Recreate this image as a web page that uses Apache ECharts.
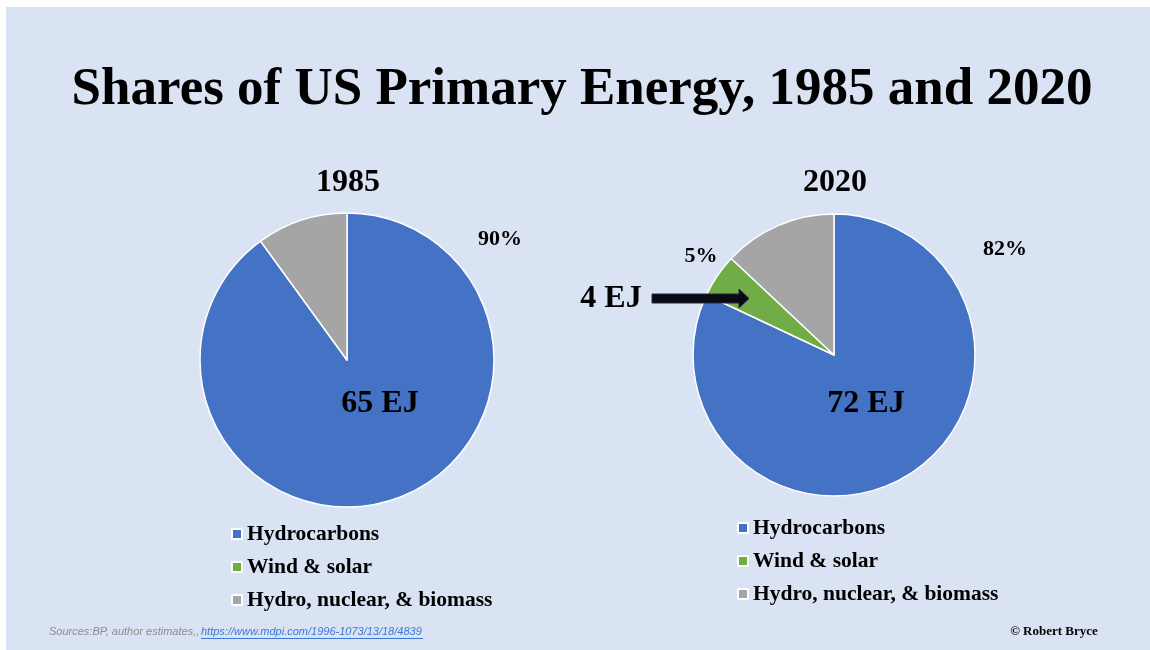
<!DOCTYPE html>
<html>
<head>
<meta charset="utf-8">
<script src="https://cdn.jsdelivr.net/npm/echarts@6/dist/echarts.min.js"></script>
<style>
  html, body { margin: 0; padding: 0; background: #fff; }
  #chart { width: 1150px; height: 650px; }
</style>
</head>
<body>
<div id="chart"></div>
<script>
// shares of US primary energy
var categories = ["Hydrocarbons", "Wind & solar", "Hydro, nuclear, & biomass"];
var years = ["1985", "2020"];
var shares1985 = [90, 0, 10];
var shares2020 = [82, 5, 13];
var totalEJ = [65, 72];
var windSolarEJ2020 = 4;
var sourceText = "Sources:BP, author estimates,, ";
var sourceLink = "https://www.mdpi.com/1996-1073/13/18/4839";
var creditText = "\u00a9 Robert Bryce";

var colors = ["#4472c4", "#70ad47", "#a5a5a5"];
var serif = "'Liberation Serif', 'Times New Roman', serif";

function pieData(shares) {
  return categories.map(function (name, i) {
    return { name: name, value: shares[i] };
  });
}

function label(text, x, y, size) {
  return {
    type: "text",
    x: x,
    y: y,
    z: 100,
    style: {
      text: text,
      font: "bold " + size + "px " + serif,
      fill: "#000",
      align: "center",
      verticalAlign: "middle"
    }
  };
}

function legendAt(left, top) {
  return {
    orient: "vertical",
    left: left,
    top: top,
    padding: 0,
    itemGap: 11,
    itemWidth: 10,
    itemHeight: 10,
    icon: "rect",
    selectedMode: false,
    data: categories,
    textStyle: {
      fontFamily: serif,
      fontWeight: "bold",
      fontSize: 21.5,
      color: "#000"
    }
  };
}

var myChart = echarts.init(document.getElementById("chart"));

var option = {
  backgroundColor: "#fff",
  animation: false,
  color: colors,
  title: [
    {
      text: "Shares of US Primary Energy, 1985 and 2020",
      left: 577,
      top: 59,
      textAlign: "center",
      textStyle: { fontFamily: serif, fontWeight: "bold", fontSize: 53, color: "#000" }
    },
    {
      text: years[0],
      left: 343,
      top: 162,
      textAlign: "center",
      textStyle: { fontFamily: serif, fontWeight: "bold", fontSize: 32, color: "#000" }
    },
    {
      text: years[1],
      left: 830,
      top: 162,
      textAlign: "center",
      textStyle: { fontFamily: serif, fontWeight: "bold", fontSize: 32, color: "#000" }
    }
  ],
  legend: [legendAt(231, 523), legendAt(737, 517)],
  series: [
    {
      name: years[0],
      type: "pie",
      center: [347, 360],
      radius: 147,
      startAngle: 90,
      label: { show: false },
      labelLine: { show: false },
      emphasis: { disabled: true },
      itemStyle: { borderColor: "#fff", borderWidth: 1.5 },
      data: pieData(shares1985)
    },
    {
      name: years[1],
      type: "pie",
      center: [834, 355],
      radius: 141,
      startAngle: 90,
      label: { show: false },
      labelLine: { show: false },
      emphasis: { disabled: true },
      itemStyle: { borderColor: "#fff", borderWidth: 1.5 },
      data: pieData(shares2020)
    }
  ],
  graphic: [
    // slide background with thin white frame top/left
    {
      type: "rect",
      z: -10,
      shape: { x: 6, y: 7, width: 1144, height: 643 },
      style: { fill: "#dae3f3" }
    },
    label(shares1985[0] + "%", 500, 239, 22),
    label(totalEJ[0] + " EJ", 380, 404, 32),
    label(shares2020[0] + "%", 1005, 249, 22),
    label(shares2020[1] + "%", 701, 256, 22),
    label(totalEJ[1] + " EJ", 866, 404, 32),
    label(windSolarEJ2020 + " EJ", 611, 299, 32),
    {
      type: "polygon",
      z: 100,
      shape: {
        points: [[652, 294], [739, 294], [739, 289], [749, 298.5], [739, 308], [739, 303], [652, 303]]
      },
      style: { fill: "#0a0a14", stroke: "#1f2a44", lineWidth: 1 }
    },
    {
      type: "text",
      x: 49,
      y: 632,
      z: 100,
      style: {
        text: sourceText,
        font: "italic 11px 'Liberation Sans', Arial, sans-serif",
        fill: "#8c8c8c",
        verticalAlign: "middle"
      }
    },
    {
      type: "text",
      x: 201,
      y: 632,
      z: 100,
      style: {
        text: sourceLink,
        font: "italic 11px 'Liberation Sans', Arial, sans-serif",
        fill: "#3b78d8",
        verticalAlign: "middle"
      }
    },
    {
      type: "line",
      z: 100,
      shape: { x1: 201, y1: 638.5, x2: 423, y2: 638.5 },
      style: { stroke: "#3b78d8", lineWidth: 1 }
    },
    {
      type: "text",
      x: 1054,
      y: 632,
      z: 100,
      style: {
        text: creditText,
        font: "bold 13px " + serif,
        fill: "#000",
        align: "center",
        verticalAlign: "middle"
      }
    }
  ]
};

myChart.setOption(option);
window.onresize = function () {
  myChart.resize();
};
</script>
</body>
</html>
